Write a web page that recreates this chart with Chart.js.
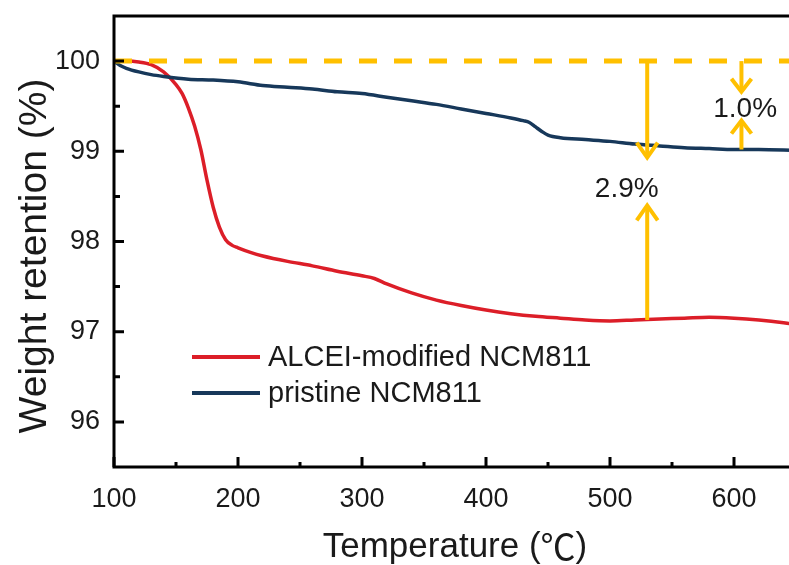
<!DOCTYPE html>
<html><head><meta charset="utf-8">
<script src="https://cdn.jsdelivr.net/npm/chart.js@4.4.0/dist/chart.umd.min.js"></script>
<style>
html,body{margin:0;padding:0;overflow:hidden;background:#fff;width:789px;height:565px}
#wrap{position:relative;width:800px;height:565px}
</style></head>
<body><div id="wrap"><canvas id="c" width="800" height="565"></canvas></div>
<script>
// ---- data ----
const alceiTemps   = [100,110,120,130,140,150,155,160,165,170,175,180,185,190,195,200,210,220,240,260,280,300,310,320,340,360,380,400,420,440,460,480,500,520,540,560,580,600,620,640,650];
const alceiWeight  = [100.0,100.0,99.99,99.96,99.88,99.74,99.64,99.48,99.28,99.02,98.68,98.38,98.16,98.02,97.96,97.93,97.88,97.84,97.78,97.73,97.67,97.62,97.59,97.53,97.43,97.35,97.29,97.24,97.20,97.17,97.15,97.13,97.12,97.13,97.14,97.15,97.16,97.15,97.13,97.10,97.08];
const pristineTemps  = [100,105,110,120,130,140,160,180,200,220,240,260,280,300,320,340,360,380,400,420,430,435,440,445,450,460,480,500,520,540,560,580,600,620,650];
const pristineWeight = [100.0,99.95,99.92,99.88,99.85,99.83,99.80,99.79,99.77,99.73,99.71,99.69,99.66,99.64,99.60,99.56,99.52,99.47,99.42,99.37,99.34,99.32,99.27,99.22,99.18,99.15,99.13,99.11,99.08,99.06,99.04,99.03,99.02,99.02,99.01];
const refTemps   = [100,650];
const refWeight  = [100,100];
const seriesNames = ['ALCEI-modified NCM811','pristine NCM811'];
const xTickValues = [100,200,300,400,500,600];
const yTickValues = [96,97,98,99,100];
const xTitle = 'Temperature (\u2103)';
const yTitle = 'Weight retention (%)';
const lossLabels = ['2.9%','1.0%'];

const RED = '#DC1E28', BLUE = '#17385A', GOLD = '#FFC000';
const FONT = '"Liberation Sans", Arial, "Noto Sans CJK SC", sans-serif';
const CJK = '"Noto Sans CJK SC", "Liberation Sans", sans-serif';

function pts(xs, ys){ return xs.map((x,i)=>({x:x, y:ys[i]})); }

const annotate = {
  id:'annotate',
  afterDatasetsDraw(chart){
    const {ctx, chartArea:a, scales:{x, y}} = chart;
    ctx.save();
    // frame
    ctx.strokeStyle = '#000'; ctx.lineWidth = 3; ctx.lineCap='butt';
    ctx.beginPath();
    ctx.moveTo(a.left, a.bottom); ctx.lineTo(a.right+10, a.bottom);
    ctx.moveTo(a.left, a.top); ctx.lineTo(a.right+10, a.top);
    ctx.moveTo(a.left, a.top-1.5); ctx.lineTo(a.left, a.bottom+1.5);
    ctx.stroke();
    // ticks (inward)
    ctx.lineWidth = 3;
    ctx.beginPath();
    xTickValues.forEach(v=>{ const p=x.getPixelForValue(v); ctx.moveTo(p,a.bottom); ctx.lineTo(p,a.bottom-10);
      const m=x.getPixelForValue(v+50); ctx.moveTo(m,a.bottom); ctx.lineTo(m,a.bottom-5); });
    yTickValues.forEach(v=>{ const p=y.getPixelForValue(v); ctx.moveTo(a.left,p); ctx.lineTo(a.left+10,p);
      if (v<100){ const m=y.getPixelForValue(v+0.5); ctx.moveTo(a.left,m); ctx.lineTo(a.left+6,m);} });
    ctx.stroke();

    // arrows
    function arrow(t, from, to, hw, hh){
      const px = x.getPixelForValue(t), y0 = y.getPixelForValue(from), y1 = y.getPixelForValue(to);
      const dir = y1 > y0 ? 1 : -1;
      ctx.strokeStyle = GOLD; ctx.lineWidth = 4; ctx.lineCap='butt'; ctx.lineJoin='miter';
      ctx.beginPath(); ctx.moveTo(px, y0); ctx.lineTo(px, y1 - dir*2); ctx.stroke();
      ctx.beginPath(); ctx.moveTo(px-hw, y1 - dir*hh); ctx.lineTo(px, y1); ctx.lineTo(px+hw, y1 - dir*hh); ctx.stroke();
    }
    arrow(530, 100, 98.93, 10.5, 15);
    arrow(530, 97.13, 98.40, 10.5, 15);
    arrow(606, 100, 99.66, 10, 13);
    arrow(606, 99.02, 99.34, 10, 13);

    ctx.fillStyle = '#1a1a1a';
    ctx.font = '28px ' + FONT; ctx.textAlign='center'; ctx.textBaseline='middle';
    ctx.fillText(lossLabels[0], x.getPixelForValue(513.5), y.getPixelForValue(98.58));
    ctx.fillText(lossLabels[1], x.getPixelForValue(609), y.getPixelForValue(99.47));

    // legend
    const ds = chart.data.datasets;
    [[1,357],[2,393]].forEach(([i,ly])=>{
      ctx.strokeStyle = ds[i].borderColor; ctx.lineWidth = 4;
      ctx.beginPath(); ctx.moveTo(192, ly); ctx.lineTo(260, ly); ctx.stroke();
      ctx.fillStyle='#1a1a1a'; ctx.textAlign='left'; ctx.font='29px '+FONT;
      ctx.fillText(ds[i].label, 268, ly+1);
    });

    // x title: latin part in Liberation Sans, the degree sign in a CJK (full-width) face
    ctx.fillStyle='#1a1a1a'; ctx.textBaseline='middle'; ctx.textAlign='left';
    const k = xTitle.indexOf('\u2103');
    const parts = [[xTitle.slice(0,k), '35px '+FONT], [xTitle[k], '35px '+CJK], [xTitle.slice(k+1), '35px '+FONT]];
    let total = 0;
    parts.forEach(p=>{ ctx.font = p[1]; p.w = ctx.measureText(p[0]).width; total += p.w; });
    let cx = (a.left + a.right)/2 - total/2;
    parts.forEach(p=>{ ctx.font = p[1]; ctx.fillText(p[0], cx, 547); cx += p.w; });

    // y title
    ctx.textAlign='center';
    ctx.save(); ctx.translate(35, 256); ctx.rotate(-Math.PI/2);
    ctx.font = '39px ' + FONT; ctx.fillText(yTitle, 0, 0); ctx.restore();
    ctx.restore();
  }
};

new Chart(document.getElementById('c'), {
  type:'line',
  data:{ datasets:[
    { label:'ref', data:pts(refTemps, refWeight), borderColor:GOLD, borderWidth:5, borderDash:[18,17], pointRadius:0, order:0 },
    { label:seriesNames[0], data:pts(alceiTemps, alceiWeight), borderColor:RED, borderWidth:3.5, pointRadius:0, cubicInterpolationMode:'monotone', order:2 },
    { label:seriesNames[1], data:pts(pristineTemps, pristineWeight), borderColor:BLUE, borderWidth:3.5, pointRadius:0, cubicInterpolationMode:'monotone', order:1 }
  ]},
  options:{
    responsive:false, devicePixelRatio:1, animation:false,
    layout:{ padding:{ top:16, right:4, left:0, bottom:0 } },
    plugins:{ legend:{display:false}, tooltip:{enabled:false} },
    scales:{
      x:{ type:'linear', min:100, max:650,
          grid:{display:false, drawTicks:false}, border:{display:false},
          ticks:{ font:{size:27, family:FONT}, color:'#1a1a1a', padding:16, autoSkip:false, maxRotation:0 },
          afterBuildTicks:s=>{ s.ticks = xTickValues.map(v=>({value:v})); },
          afterFit:s=>{ s.height = 98; s.paddingLeft = 0; s.paddingRight = 0; } },
      y:{ type:'linear', min:95.5, max:100.5,
          grid:{display:false, drawTicks:false}, border:{display:false},
          ticks:{ font:{size:27, family:FONT}, color:'#1a1a1a', padding:14 },
          afterBuildTicks:s=>{ s.ticks = yTickValues.map(v=>({value:v})); },
          afterFit:s=>{ s.width = 114; s.paddingTop = 0; s.paddingBottom = 0; } }
    }
  },
  plugins:[annotate]
});
</script>
</body></html>
